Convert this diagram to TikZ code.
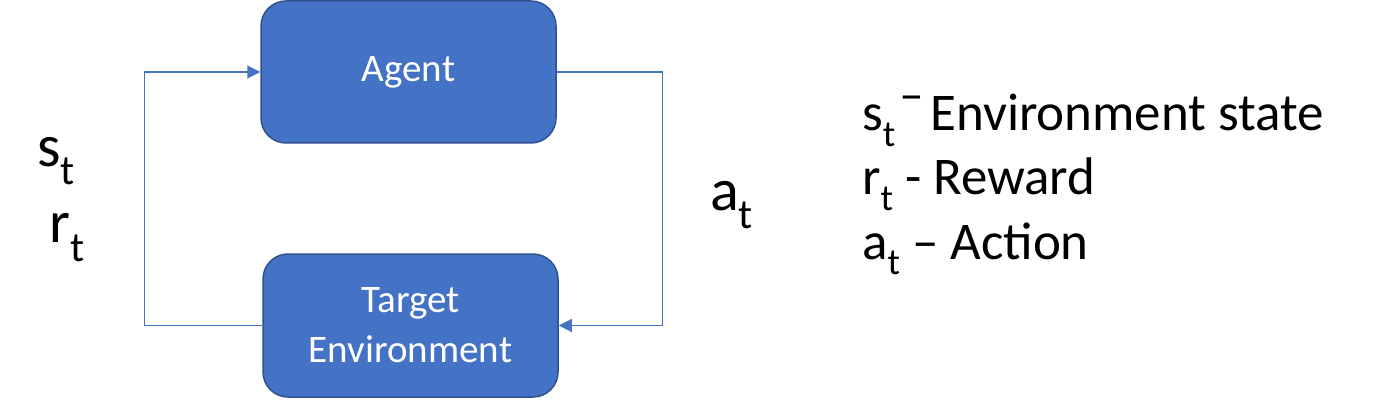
\documentclass[tikz,border=0pt]{standalone}
\usepackage{fontspec}
\setmainfont{Carlito}
\usetikzlibrary{arrows.meta}
\definecolor{boxfill}{HTML}{4472C4}
\definecolor{boxline}{HTML}{2F528F}
\definecolor{linkc}{HTML}{4472C4}
\newcommand{\subt}{\raisebox{-0.3em}{\scalebox{0.7}{t}}}
\tikzset{
  x=1pt, y=-1pt,
  blockbox/.style={draw=boxline, line width=1.5pt, fill=boxfill, rounded corners=25pt,
    minimum width=295pt, minimum height=142pt, inner sep=0pt, text=white,
    align=center, font=\fontsize{39}{50}\selectfont},
  link/.style={draw=linkc, line width=1.1pt, -{Triangle[length=13pt,width=13pt]}},
  biglabel/.style={anchor=base west, inner sep=0pt, font=\fontsize{53}{64}\selectfont},
  looplabel/.style={anchor=base west, inner sep=0pt, font=\fontsize{60}{70}\selectfont},
}
\begin{document}
\begin{tikzpicture}
\useasboundingbox (0,0) rectangle (1400,414);
\node[blockbox] (agent) at (408.5,72) {\raisebox{-2pt}{Agent}};
\node[blockbox, minimum height=143pt] (env) at (410.5,325.5) {Target\\Environment};
\draw[link] (env.west) -- ++(-118,0) coordinate (lc) |- (agent.west);
\draw[link] (agent.east) -- ++(106,0) coordinate (rc) |- (env.east);
\node[looplabel] (sl) at (37,167) {s\subt};
\node[looplabel] (rl) at (49,243) {r\subt};
\node[looplabel] (al) at (710,211) {a\subt};
\node[biglabel] (l1) at (862,131) {s\subt\hspace{0.1em}\raisebox{0.4em}{\scalebox{1.4}[0.8]{-}}\hspace{0.13em}Environment state};
\node[biglabel] (l2) at (862,195) {r\subt\ - Reward};
\node[biglabel] (l3) at (862,259) {a\subt\ – Action};
\end{tikzpicture}
\end{document}
